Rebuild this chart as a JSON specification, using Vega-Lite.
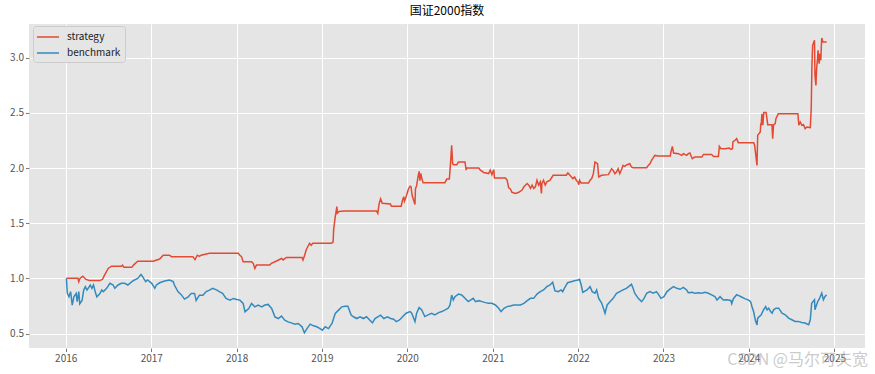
{
"$schema": "https://vega.github.io/schema/vega-lite/v6.json",
"width": 836, "height": 324,
"autosize": {"type": "none"},
"padding": {"left": 29, "top": 24, "right": 10, "bottom": 26},
"background": "white",
"title": {"text": "国证2000指数", "font": "Noto Sans CJK SC", "fontSize": 12, "fontWeight": "normal", "color": "#000000", "anchor": "middle", "offset": 6},
"config": {
"view": {"fill": "#E5E5E5", "stroke": null},
"axis": {"domain": false, "grid": true, "gridColor": "#FFFFFF", "gridWidth": 1, "gridOpacity": 1, "ticks": true, "tickColor": "#555555", "tickSize": 3.5, "tickWidth": 0.8, "labelColor": "#555555", "labelFont": "Noto Sans CJK SC", "labelFontSize": 10, "labelPadding": 2, "labelFlush": false, "title": null}
},
"datasets": {
"series": [
{"date":"2016-01-04","series":"strategy","value":1.000},
{"date":"2016-02-22","series":"strategy","value":1.000},
{"date":"2016-02-26","series":"strategy","value":0.970},
{"date":"2016-03-02","series":"strategy","value":1.000},
{"date":"2016-03-14","series":"strategy","value":1.020},
{"date":"2016-03-28","series":"strategy","value":0.990},
{"date":"2016-04-11","series":"strategy","value":0.980},
{"date":"2016-05-25","series":"strategy","value":0.980},
{"date":"2016-06-06","series":"strategy","value":0.990},
{"date":"2016-06-15","series":"strategy","value":1.030},
{"date":"2016-07-01","series":"strategy","value":1.090},
{"date":"2016-07-15","series":"strategy","value":1.110},
{"date":"2016-08-26","series":"strategy","value":1.110},
{"date":"2016-08-31","series":"strategy","value":1.120},
{"date":"2016-09-06","series":"strategy","value":1.100},
{"date":"2016-10-10","series":"strategy","value":1.100},
{"date":"2016-10-17","series":"strategy","value":1.120},
{"date":"2016-11-04","series":"strategy","value":1.155},
{"date":"2017-01-09","series":"strategy","value":1.155},
{"date":"2017-02-06","series":"strategy","value":1.175},
{"date":"2017-02-21","series":"strategy","value":1.210},
{"date":"2017-03-20","series":"strategy","value":1.210},
{"date":"2017-03-28","series":"strategy","value":1.197},
{"date":"2017-06-28","series":"strategy","value":1.197},
{"date":"2017-07-07","series":"strategy","value":1.170},
{"date":"2017-07-17","series":"strategy","value":1.210},
{"date":"2017-07-26","series":"strategy","value":1.200},
{"date":"2017-08-02","series":"strategy","value":1.210},
{"date":"2017-09-07","series":"strategy","value":1.227},
{"date":"2018-01-08","series":"strategy","value":1.227},
{"date":"2018-01-15","series":"strategy","value":1.210},
{"date":"2018-01-22","series":"strategy","value":1.197},
{"date":"2018-01-29","series":"strategy","value":1.150},
{"date":"2018-03-06","series":"strategy","value":1.150},
{"date":"2018-03-13","series":"strategy","value":1.136},
{"date":"2018-03-20","series":"strategy","value":1.090},
{"date":"2018-03-27","series":"strategy","value":1.120},
{"date":"2018-05-23","series":"strategy","value":1.120},
{"date":"2018-05-30","series":"strategy","value":1.136},
{"date":"2018-06-21","series":"strategy","value":1.157},
{"date":"2018-07-12","series":"strategy","value":1.180},
{"date":"2018-07-19","series":"strategy","value":1.167},
{"date":"2018-08-02","series":"strategy","value":1.190},
{"date":"2018-10-08","series":"strategy","value":1.190},
{"date":"2018-10-12","series":"strategy","value":1.167},
{"date":"2018-10-19","series":"strategy","value":1.210},
{"date":"2018-10-26","series":"strategy","value":1.260},
{"date":"2018-11-09","series":"strategy","value":1.318},
{"date":"2018-11-16","series":"strategy","value":1.300},
{"date":"2018-11-23","series":"strategy","value":1.318},
{"date":"2019-02-11","series":"strategy","value":1.318},
{"date":"2019-02-18","series":"strategy","value":1.330},
{"date":"2019-02-20","series":"strategy","value":1.440},
{"date":"2019-02-27","series":"strategy","value":1.560},
{"date":"2019-03-06","series":"strategy","value":1.650},
{"date":"2019-03-08","series":"strategy","value":1.590},
{"date":"2019-03-15","series":"strategy","value":1.606},
{"date":"2019-04-05","series":"strategy","value":1.610},
{"date":"2019-08-23","series":"strategy","value":1.610},
{"date":"2019-08-28","series":"strategy","value":1.590},
{"date":"2019-09-03","series":"strategy","value":1.680},
{"date":"2019-09-09","series":"strategy","value":1.720},
{"date":"2019-09-16","series":"strategy","value":1.680},
{"date":"2019-10-21","series":"strategy","value":1.674},
{"date":"2019-10-25","series":"strategy","value":1.654},
{"date":"2019-12-06","series":"strategy","value":1.654},
{"date":"2019-12-12","series":"strategy","value":1.710},
{"date":"2019-12-17","series":"strategy","value":1.740},
{"date":"2019-12-20","series":"strategy","value":1.700},
{"date":"2019-12-27","series":"strategy","value":1.740},
{"date":"2020-01-06","series":"strategy","value":1.810},
{"date":"2020-01-13","series":"strategy","value":1.835},
{"date":"2020-01-17","series":"strategy","value":1.830},
{"date":"2020-01-22","series":"strategy","value":1.750},
{"date":"2020-02-03","series":"strategy","value":1.670},
{"date":"2020-02-05","series":"strategy","value":1.810},
{"date":"2020-02-10","series":"strategy","value":1.840},
{"date":"2020-02-17","series":"strategy","value":1.930},
{"date":"2020-02-21","series":"strategy","value":1.970},
{"date":"2020-02-24","series":"strategy","value":1.885},
{"date":"2020-02-28","series":"strategy","value":1.950},
{"date":"2020-03-04","series":"strategy","value":1.900},
{"date":"2020-03-09","series":"strategy","value":1.867},
{"date":"2020-06-10","series":"strategy","value":1.867},
{"date":"2020-06-18","series":"strategy","value":1.900},
{"date":"2020-06-29","series":"strategy","value":1.900},
{"date":"2020-07-03","series":"strategy","value":2.010},
{"date":"2020-07-09","series":"strategy","value":2.205},
{"date":"2020-07-13","series":"strategy","value":2.040},
{"date":"2020-07-17","series":"strategy","value":2.030},
{"date":"2020-07-31","series":"strategy","value":2.030},
{"date":"2020-08-07","series":"strategy","value":2.054},
{"date":"2020-09-04","series":"strategy","value":2.054},
{"date":"2020-09-09","series":"strategy","value":1.980},
{"date":"2020-09-11","series":"strategy","value":2.000},
{"date":"2020-11-02","series":"strategy","value":2.000},
{"date":"2020-11-09","series":"strategy","value":1.980},
{"date":"2020-11-23","series":"strategy","value":1.960},
{"date":"2020-12-14","series":"strategy","value":1.950},
{"date":"2020-12-21","series":"strategy","value":1.980},
{"date":"2020-12-28","series":"strategy","value":1.940},
{"date":"2021-01-05","series":"strategy","value":1.985},
{"date":"2021-01-08","series":"strategy","value":1.910},
{"date":"2021-02-24","series":"strategy","value":1.910},
{"date":"2021-03-03","series":"strategy","value":1.890},
{"date":"2021-03-10","series":"strategy","value":1.820},
{"date":"2021-03-17","series":"strategy","value":1.810},
{"date":"2021-03-24","series":"strategy","value":1.780},
{"date":"2021-04-08","series":"strategy","value":1.770},
{"date":"2021-04-22","series":"strategy","value":1.780},
{"date":"2021-05-06","series":"strategy","value":1.800},
{"date":"2021-05-14","series":"strategy","value":1.830},
{"date":"2021-05-28","series":"strategy","value":1.860},
{"date":"2021-06-04","series":"strategy","value":1.845},
{"date":"2021-06-11","series":"strategy","value":1.815},
{"date":"2021-06-18","series":"strategy","value":1.845},
{"date":"2021-06-25","series":"strategy","value":1.815},
{"date":"2021-07-02","series":"strategy","value":1.830},
{"date":"2021-07-09","series":"strategy","value":1.890},
{"date":"2021-07-16","series":"strategy","value":1.845},
{"date":"2021-07-23","series":"strategy","value":1.875},
{"date":"2021-07-28","series":"strategy","value":1.770},
{"date":"2021-07-30","series":"strategy","value":1.860},
{"date":"2021-08-06","series":"strategy","value":1.890},
{"date":"2021-08-13","series":"strategy","value":1.845},
{"date":"2021-08-20","series":"strategy","value":1.875},
{"date":"2021-09-03","series":"strategy","value":1.890},
{"date":"2021-09-16","series":"strategy","value":1.934},
{"date":"2021-11-11","series":"strategy","value":1.934},
{"date":"2021-11-18","series":"strategy","value":1.955},
{"date":"2021-11-25","series":"strategy","value":1.940},
{"date":"2021-12-03","series":"strategy","value":1.919},
{"date":"2021-12-10","series":"strategy","value":1.904},
{"date":"2021-12-17","series":"strategy","value":1.919},
{"date":"2021-12-24","series":"strategy","value":1.889},
{"date":"2021-12-31","series":"strategy","value":1.873},
{"date":"2022-01-04","series":"strategy","value":1.849},
{"date":"2022-01-07","series":"strategy","value":1.889},
{"date":"2022-01-14","series":"strategy","value":1.864},
{"date":"2022-02-14","series":"strategy","value":1.864},
{"date":"2022-02-21","series":"strategy","value":1.889},
{"date":"2022-02-28","series":"strategy","value":1.904},
{"date":"2022-03-07","series":"strategy","value":1.949},
{"date":"2022-03-14","series":"strategy","value":2.054},
{"date":"2022-03-25","series":"strategy","value":2.039},
{"date":"2022-03-30","series":"strategy","value":1.919},
{"date":"2022-04-11","series":"strategy","value":1.934},
{"date":"2022-05-10","series":"strategy","value":1.940},
{"date":"2022-05-17","series":"strategy","value":1.964},
{"date":"2022-05-24","series":"strategy","value":1.994},
{"date":"2022-05-31","series":"strategy","value":1.979},
{"date":"2022-06-07","series":"strategy","value":1.949},
{"date":"2022-06-14","series":"strategy","value":1.964},
{"date":"2022-06-21","series":"strategy","value":1.994},
{"date":"2022-06-28","series":"strategy","value":1.949},
{"date":"2022-07-05","series":"strategy","value":1.985},
{"date":"2022-07-12","series":"strategy","value":2.024},
{"date":"2022-07-19","series":"strategy","value":2.015},
{"date":"2022-07-29","series":"strategy","value":2.030},
{"date":"2022-08-10","series":"strategy","value":2.039},
{"date":"2022-08-17","series":"strategy","value":2.009},
{"date":"2022-08-24","series":"strategy","value":2.003},
{"date":"2022-10-21","series":"strategy","value":2.003},
{"date":"2022-10-28","series":"strategy","value":2.024},
{"date":"2022-11-04","series":"strategy","value":2.039},
{"date":"2022-11-11","series":"strategy","value":2.069},
{"date":"2022-11-25","series":"strategy","value":2.114},
{"date":"2022-12-09","series":"strategy","value":2.108},
{"date":"2023-01-30","series":"strategy","value":2.108},
{"date":"2023-02-02","series":"strategy","value":2.145},
{"date":"2023-02-08","series":"strategy","value":2.196},
{"date":"2023-02-13","series":"strategy","value":2.136},
{"date":"2023-03-06","series":"strategy","value":2.130},
{"date":"2023-03-20","series":"strategy","value":2.114},
{"date":"2023-03-27","series":"strategy","value":2.130},
{"date":"2023-04-10","series":"strategy","value":2.114},
{"date":"2023-04-17","series":"strategy","value":2.130},
{"date":"2023-04-24","series":"strategy","value":2.136},
{"date":"2023-05-04","series":"strategy","value":2.084},
{"date":"2023-05-15","series":"strategy","value":2.099},
{"date":"2023-06-14","series":"strategy","value":2.099},
{"date":"2023-06-21","series":"strategy","value":2.123},
{"date":"2023-07-26","series":"strategy","value":2.123},
{"date":"2023-08-03","series":"strategy","value":2.105},
{"date":"2023-08-24","series":"strategy","value":2.105},
{"date":"2023-08-28","series":"strategy","value":2.196},
{"date":"2023-09-04","series":"strategy","value":2.175},
{"date":"2023-09-22","series":"strategy","value":2.175},
{"date":"2023-10-09","series":"strategy","value":2.181},
{"date":"2023-10-16","series":"strategy","value":2.169},
{"date":"2023-10-23","series":"strategy","value":2.175},
{"date":"2023-10-25","series":"strategy","value":2.236},
{"date":"2023-11-03","series":"strategy","value":2.251},
{"date":"2023-11-10","series":"strategy","value":2.266},
{"date":"2023-11-17","series":"strategy","value":2.230},
{"date":"2024-01-22","series":"strategy","value":2.230},
{"date":"2024-01-26","series":"strategy","value":2.205},
{"date":"2024-02-05","series":"strategy","value":2.024},
{"date":"2024-02-08","series":"strategy","value":2.296},
{"date":"2024-02-19","series":"strategy","value":2.326},
{"date":"2024-02-20","series":"strategy","value":2.356},
{"date":"2024-02-21","series":"strategy","value":2.402},
{"date":"2024-02-23","series":"strategy","value":2.387},
{"date":"2024-02-26","series":"strategy","value":2.492},
{"date":"2024-03-01","series":"strategy","value":2.387},
{"date":"2024-03-05","series":"strategy","value":2.502},
{"date":"2024-03-15","series":"strategy","value":2.502},
{"date":"2024-03-22","series":"strategy","value":2.393},
{"date":"2024-04-09","series":"strategy","value":2.393},
{"date":"2024-04-12","series":"strategy","value":2.266},
{"date":"2024-04-16","series":"strategy","value":2.393},
{"date":"2024-04-23","series":"strategy","value":2.402},
{"date":"2024-04-26","series":"strategy","value":2.447},
{"date":"2024-05-06","series":"strategy","value":2.492},
{"date":"2024-07-29","series":"strategy","value":2.492},
{"date":"2024-08-02","series":"strategy","value":2.387},
{"date":"2024-08-08","series":"strategy","value":2.417},
{"date":"2024-08-15","series":"strategy","value":2.387},
{"date":"2024-08-22","series":"strategy","value":2.393},
{"date":"2024-08-29","series":"strategy","value":2.356},
{"date":"2024-09-05","series":"strategy","value":2.372},
{"date":"2024-09-20","series":"strategy","value":2.366},
{"date":"2024-09-24","series":"strategy","value":2.538},
{"date":"2024-09-27","series":"strategy","value":2.931},
{"date":"2024-09-30","series":"strategy","value":3.112},
{"date":"2024-10-08","series":"strategy","value":3.157},
{"date":"2024-10-10","series":"strategy","value":2.840},
{"date":"2024-10-14","series":"strategy","value":2.749},
{"date":"2024-10-17","series":"strategy","value":2.900},
{"date":"2024-10-21","series":"strategy","value":2.991},
{"date":"2024-10-23","series":"strategy","value":3.066},
{"date":"2024-10-28","series":"strategy","value":2.946},
{"date":"2024-10-31","series":"strategy","value":3.036},
{"date":"2024-11-04","series":"strategy","value":2.976},
{"date":"2024-11-06","series":"strategy","value":3.097},
{"date":"2024-11-08","series":"strategy","value":3.178},
{"date":"2024-11-13","series":"strategy","value":3.142},
{"date":"2024-11-29","series":"strategy","value":3.142},
{"date":"2016-01-04","series":"benchmark","value":1.000},
{"date":"2016-01-08","series":"benchmark","value":0.864},
{"date":"2016-01-15","series":"benchmark","value":0.833},
{"date":"2016-01-22","series":"benchmark","value":0.880},
{"date":"2016-01-29","series":"benchmark","value":0.758},
{"date":"2016-02-05","series":"benchmark","value":0.833},
{"date":"2016-02-15","series":"benchmark","value":0.864},
{"date":"2016-02-19","series":"benchmark","value":0.790},
{"date":"2016-02-26","series":"benchmark","value":0.880},
{"date":"2016-03-01","series":"benchmark","value":0.770},
{"date":"2016-03-11","series":"benchmark","value":0.800},
{"date":"2016-03-18","series":"benchmark","value":0.894},
{"date":"2016-03-25","series":"benchmark","value":0.924},
{"date":"2016-04-01","series":"benchmark","value":0.894},
{"date":"2016-04-15","series":"benchmark","value":0.940},
{"date":"2016-04-22","series":"benchmark","value":0.910},
{"date":"2016-04-29","series":"benchmark","value":0.940},
{"date":"2016-05-06","series":"benchmark","value":0.880},
{"date":"2016-05-13","series":"benchmark","value":0.833},
{"date":"2016-05-20","series":"benchmark","value":0.848},
{"date":"2016-05-27","series":"benchmark","value":0.864},
{"date":"2016-06-03","series":"benchmark","value":0.894},
{"date":"2016-06-10","series":"benchmark","value":0.880},
{"date":"2016-06-24","series":"benchmark","value":0.910},
{"date":"2016-07-08","series":"benchmark","value":0.955},
{"date":"2016-07-22","series":"benchmark","value":0.940},
{"date":"2016-07-29","series":"benchmark","value":0.910},
{"date":"2016-08-12","series":"benchmark","value":0.940},
{"date":"2016-08-26","series":"benchmark","value":0.955},
{"date":"2016-09-09","series":"benchmark","value":0.955},
{"date":"2016-09-23","series":"benchmark","value":0.940},
{"date":"2016-10-10","series":"benchmark","value":0.970},
{"date":"2016-10-21","series":"benchmark","value":0.985},
{"date":"2016-11-04","series":"benchmark","value":1.000},
{"date":"2016-11-18","series":"benchmark","value":1.036},
{"date":"2016-11-25","series":"benchmark","value":1.015},
{"date":"2016-12-08","series":"benchmark","value":0.970},
{"date":"2016-12-16","series":"benchmark","value":0.985},
{"date":"2017-01-03","series":"benchmark","value":0.955},
{"date":"2017-01-16","series":"benchmark","value":0.910},
{"date":"2017-01-23","series":"benchmark","value":0.940},
{"date":"2017-02-06","series":"benchmark","value":0.960},
{"date":"2017-02-27","series":"benchmark","value":0.976},
{"date":"2017-03-20","series":"benchmark","value":0.985},
{"date":"2017-04-05","series":"benchmark","value":0.970},
{"date":"2017-04-10","series":"benchmark","value":0.940},
{"date":"2017-04-25","series":"benchmark","value":0.880},
{"date":"2017-05-10","series":"benchmark","value":0.850},
{"date":"2017-05-23","series":"benchmark","value":0.812},
{"date":"2017-06-08","series":"benchmark","value":0.833},
{"date":"2017-06-21","series":"benchmark","value":0.864},
{"date":"2017-07-05","series":"benchmark","value":0.864},
{"date":"2017-07-12","series":"benchmark","value":0.800},
{"date":"2017-07-26","series":"benchmark","value":0.848},
{"date":"2017-08-10","series":"benchmark","value":0.848},
{"date":"2017-08-24","series":"benchmark","value":0.880},
{"date":"2017-09-07","series":"benchmark","value":0.894},
{"date":"2017-09-21","series":"benchmark","value":0.910},
{"date":"2017-10-09","series":"benchmark","value":0.894},
{"date":"2017-10-19","series":"benchmark","value":0.880},
{"date":"2017-11-02","series":"benchmark","value":0.864},
{"date":"2017-11-17","series":"benchmark","value":0.818},
{"date":"2017-12-04","series":"benchmark","value":0.803},
{"date":"2017-12-18","series":"benchmark","value":0.818},
{"date":"2018-01-02","series":"benchmark","value":0.809},
{"date":"2018-01-15","series":"benchmark","value":0.803},
{"date":"2018-01-29","series":"benchmark","value":0.773},
{"date":"2018-02-06","series":"benchmark","value":0.697},
{"date":"2018-02-22","series":"benchmark","value":0.727},
{"date":"2018-03-06","series":"benchmark","value":0.773},
{"date":"2018-03-20","series":"benchmark","value":0.742},
{"date":"2018-04-03","series":"benchmark","value":0.758},
{"date":"2018-04-18","series":"benchmark","value":0.742},
{"date":"2018-05-02","series":"benchmark","value":0.758},
{"date":"2018-05-16","series":"benchmark","value":0.764},
{"date":"2018-05-31","series":"benchmark","value":0.727},
{"date":"2018-06-14","series":"benchmark","value":0.651},
{"date":"2018-06-28","series":"benchmark","value":0.636},
{"date":"2018-07-12","series":"benchmark","value":0.658},
{"date":"2018-07-26","series":"benchmark","value":0.621},
{"date":"2018-08-09","series":"benchmark","value":0.606},
{"date":"2018-08-23","series":"benchmark","value":0.597},
{"date":"2018-09-07","series":"benchmark","value":0.585},
{"date":"2018-09-21","series":"benchmark","value":0.591},
{"date":"2018-10-08","series":"benchmark","value":0.561},
{"date":"2018-10-18","series":"benchmark","value":0.506},
{"date":"2018-10-29","series":"benchmark","value":0.545},
{"date":"2018-11-12","series":"benchmark","value":0.585},
{"date":"2018-11-26","series":"benchmark","value":0.570},
{"date":"2018-12-10","series":"benchmark","value":0.561},
{"date":"2018-12-24","series":"benchmark","value":0.545},
{"date":"2019-01-03","series":"benchmark","value":0.530},
{"date":"2019-01-15","series":"benchmark","value":0.561},
{"date":"2019-01-29","series":"benchmark","value":0.545},
{"date":"2019-02-13","series":"benchmark","value":0.591},
{"date":"2019-02-27","series":"benchmark","value":0.682},
{"date":"2019-03-13","series":"benchmark","value":0.712},
{"date":"2019-03-27","series":"benchmark","value":0.742},
{"date":"2019-04-10","series":"benchmark","value":0.748},
{"date":"2019-04-22","series":"benchmark","value":0.748},
{"date":"2019-05-06","series":"benchmark","value":0.667},
{"date":"2019-05-16","series":"benchmark","value":0.652},
{"date":"2019-05-30","series":"benchmark","value":0.636},
{"date":"2019-06-13","series":"benchmark","value":0.652},
{"date":"2019-06-27","series":"benchmark","value":0.636},
{"date":"2019-07-11","series":"benchmark","value":0.652},
{"date":"2019-07-25","series":"benchmark","value":0.621},
{"date":"2019-08-05","series":"benchmark","value":0.597},
{"date":"2019-08-16","series":"benchmark","value":0.636},
{"date":"2019-09-09","series":"benchmark","value":0.667},
{"date":"2019-09-23","series":"benchmark","value":0.636},
{"date":"2019-10-08","series":"benchmark","value":0.652},
{"date":"2019-10-22","series":"benchmark","value":0.636},
{"date":"2019-11-04","series":"benchmark","value":0.630},
{"date":"2019-11-15","series":"benchmark","value":0.608},
{"date":"2019-11-29","series":"benchmark","value":0.623},
{"date":"2019-12-13","series":"benchmark","value":0.654},
{"date":"2019-12-27","series":"benchmark","value":0.684},
{"date":"2020-01-13","series":"benchmark","value":0.699},
{"date":"2020-01-20","series":"benchmark","value":0.684},
{"date":"2020-02-03","series":"benchmark","value":0.608},
{"date":"2020-02-10","series":"benchmark","value":0.684},
{"date":"2020-02-21","series":"benchmark","value":0.735},
{"date":"2020-03-03","series":"benchmark","value":0.714},
{"date":"2020-03-16","series":"benchmark","value":0.654},
{"date":"2020-03-30","series":"benchmark","value":0.669},
{"date":"2020-04-14","series":"benchmark","value":0.684},
{"date":"2020-04-28","series":"benchmark","value":0.669},
{"date":"2020-05-14","series":"benchmark","value":0.690},
{"date":"2020-05-28","series":"benchmark","value":0.699},
{"date":"2020-06-11","series":"benchmark","value":0.714},
{"date":"2020-06-24","series":"benchmark","value":0.729},
{"date":"2020-07-02","series":"benchmark","value":0.759},
{"date":"2020-07-09","series":"benchmark","value":0.849},
{"date":"2020-07-16","series":"benchmark","value":0.804},
{"date":"2020-07-23","series":"benchmark","value":0.834},
{"date":"2020-08-07","series":"benchmark","value":0.858},
{"date":"2020-08-21","series":"benchmark","value":0.849},
{"date":"2020-09-04","series":"benchmark","value":0.819},
{"date":"2020-09-18","series":"benchmark","value":0.789},
{"date":"2020-10-09","series":"benchmark","value":0.819},
{"date":"2020-10-19","series":"benchmark","value":0.789},
{"date":"2020-11-02","series":"benchmark","value":0.798},
{"date":"2020-11-16","series":"benchmark","value":0.789},
{"date":"2020-11-30","series":"benchmark","value":0.780},
{"date":"2020-12-14","series":"benchmark","value":0.774},
{"date":"2020-12-28","series":"benchmark","value":0.774},
{"date":"2021-01-12","series":"benchmark","value":0.759},
{"date":"2021-01-26","series":"benchmark","value":0.729},
{"date":"2021-02-05","series":"benchmark","value":0.699},
{"date":"2021-02-18","series":"benchmark","value":0.729},
{"date":"2021-03-03","series":"benchmark","value":0.744},
{"date":"2021-03-17","series":"benchmark","value":0.750},
{"date":"2021-03-31","series":"benchmark","value":0.759},
{"date":"2021-04-15","series":"benchmark","value":0.759},
{"date":"2021-04-29","series":"benchmark","value":0.759},
{"date":"2021-05-14","series":"benchmark","value":0.774},
{"date":"2021-05-28","series":"benchmark","value":0.798},
{"date":"2021-06-11","series":"benchmark","value":0.819},
{"date":"2021-06-25","series":"benchmark","value":0.819},
{"date":"2021-07-09","series":"benchmark","value":0.858},
{"date":"2021-07-23","series":"benchmark","value":0.880},
{"date":"2021-08-06","series":"benchmark","value":0.895},
{"date":"2021-08-20","series":"benchmark","value":0.925},
{"date":"2021-09-03","series":"benchmark","value":0.940},
{"date":"2021-09-14","series":"benchmark","value":0.964},
{"date":"2021-09-24","series":"benchmark","value":0.886},
{"date":"2021-10-08","series":"benchmark","value":0.880},
{"date":"2021-10-20","series":"benchmark","value":0.895},
{"date":"2021-10-27","series":"benchmark","value":0.880},
{"date":"2021-11-03","series":"benchmark","value":0.910},
{"date":"2021-11-17","series":"benchmark","value":0.961},
{"date":"2021-12-02","series":"benchmark","value":0.970},
{"date":"2021-12-16","series":"benchmark","value":0.979},
{"date":"2021-12-31","series":"benchmark","value":0.985},
{"date":"2022-01-07","series":"benchmark","value":0.991},
{"date":"2022-01-14","series":"benchmark","value":0.940},
{"date":"2022-01-21","series":"benchmark","value":0.873},
{"date":"2022-02-08","series":"benchmark","value":0.895},
{"date":"2022-02-21","series":"benchmark","value":0.925},
{"date":"2022-03-02","series":"benchmark","value":0.880},
{"date":"2022-03-14","series":"benchmark","value":0.865},
{"date":"2022-03-21","series":"benchmark","value":0.895},
{"date":"2022-03-30","series":"benchmark","value":0.819},
{"date":"2022-04-12","series":"benchmark","value":0.774},
{"date":"2022-04-19","series":"benchmark","value":0.729},
{"date":"2022-04-26","series":"benchmark","value":0.684},
{"date":"2022-05-05","series":"benchmark","value":0.759},
{"date":"2022-05-17","series":"benchmark","value":0.789},
{"date":"2022-05-31","series":"benchmark","value":0.819},
{"date":"2022-06-14","series":"benchmark","value":0.865},
{"date":"2022-06-28","series":"benchmark","value":0.880},
{"date":"2022-07-12","series":"benchmark","value":0.895},
{"date":"2022-07-26","series":"benchmark","value":0.910},
{"date":"2022-08-05","series":"benchmark","value":0.925},
{"date":"2022-08-17","series":"benchmark","value":0.946},
{"date":"2022-08-24","series":"benchmark","value":0.910},
{"date":"2022-08-31","series":"benchmark","value":0.865},
{"date":"2022-09-15","series":"benchmark","value":0.819},
{"date":"2022-09-29","series":"benchmark","value":0.789},
{"date":"2022-10-10","series":"benchmark","value":0.819},
{"date":"2022-10-21","series":"benchmark","value":0.865},
{"date":"2022-11-04","series":"benchmark","value":0.880},
{"date":"2022-11-18","series":"benchmark","value":0.865},
{"date":"2022-12-02","series":"benchmark","value":0.880},
{"date":"2022-12-12","series":"benchmark","value":0.850},
{"date":"2022-12-21","series":"benchmark","value":0.819},
{"date":"2023-01-03","series":"benchmark","value":0.834},
{"date":"2023-01-16","series":"benchmark","value":0.880},
{"date":"2023-01-30","series":"benchmark","value":0.904},
{"date":"2023-02-13","series":"benchmark","value":0.925},
{"date":"2023-02-27","series":"benchmark","value":0.910},
{"date":"2023-03-13","series":"benchmark","value":0.901},
{"date":"2023-03-27","series":"benchmark","value":0.919},
{"date":"2023-04-10","series":"benchmark","value":0.895},
{"date":"2023-04-17","series":"benchmark","value":0.870},
{"date":"2023-05-04","series":"benchmark","value":0.873},
{"date":"2023-05-15","series":"benchmark","value":0.865},
{"date":"2023-05-30","series":"benchmark","value":0.870},
{"date":"2023-06-13","series":"benchmark","value":0.865},
{"date":"2023-06-28","series":"benchmark","value":0.873},
{"date":"2023-07-12","series":"benchmark","value":0.865},
{"date":"2023-07-26","series":"benchmark","value":0.850},
{"date":"2023-08-09","series":"benchmark","value":0.834},
{"date":"2023-08-18","series":"benchmark","value":0.804},
{"date":"2023-08-31","series":"benchmark","value":0.834},
{"date":"2023-09-14","series":"benchmark","value":0.804},
{"date":"2023-09-28","series":"benchmark","value":0.807},
{"date":"2023-10-16","series":"benchmark","value":0.800},
{"date":"2023-10-20","series":"benchmark","value":0.770},
{"date":"2023-10-27","series":"benchmark","value":0.816},
{"date":"2023-11-10","series":"benchmark","value":0.852},
{"date":"2023-11-17","series":"benchmark","value":0.846},
{"date":"2023-12-01","series":"benchmark","value":0.831},
{"date":"2023-12-15","series":"benchmark","value":0.816},
{"date":"2024-01-02","series":"benchmark","value":0.801},
{"date":"2024-01-09","series":"benchmark","value":0.786},
{"date":"2024-01-15","series":"benchmark","value":0.740},
{"date":"2024-01-22","series":"benchmark","value":0.695},
{"date":"2024-01-29","series":"benchmark","value":0.620},
{"date":"2024-02-05","series":"benchmark","value":0.578},
{"date":"2024-02-08","series":"benchmark","value":0.640},
{"date":"2024-02-23","series":"benchmark","value":0.670},
{"date":"2024-03-04","series":"benchmark","value":0.715},
{"date":"2024-03-13","series":"benchmark","value":0.745},
{"date":"2024-03-19","series":"benchmark","value":0.715},
{"date":"2024-03-26","series":"benchmark","value":0.730},
{"date":"2024-04-03","series":"benchmark","value":0.700},
{"date":"2024-04-10","series":"benchmark","value":0.685},
{"date":"2024-04-16","series":"benchmark","value":0.715},
{"date":"2024-04-26","series":"benchmark","value":0.730},
{"date":"2024-05-08","series":"benchmark","value":0.730},
{"date":"2024-05-22","series":"benchmark","value":0.685},
{"date":"2024-06-05","series":"benchmark","value":0.670},
{"date":"2024-06-19","series":"benchmark","value":0.640},
{"date":"2024-07-03","series":"benchmark","value":0.625},
{"date":"2024-07-17","series":"benchmark","value":0.610},
{"date":"2024-07-31","series":"benchmark","value":0.610},
{"date":"2024-08-14","series":"benchmark","value":0.600},
{"date":"2024-08-28","series":"benchmark","value":0.595},
{"date":"2024-09-13","series":"benchmark","value":0.580},
{"date":"2024-09-20","series":"benchmark","value":0.625},
{"date":"2024-09-26","series":"benchmark","value":0.775},
{"date":"2024-10-08","series":"benchmark","value":0.806},
{"date":"2024-10-10","series":"benchmark","value":0.715},
{"date":"2024-10-17","series":"benchmark","value":0.760},
{"date":"2024-10-22","series":"benchmark","value":0.790},
{"date":"2024-10-30","series":"benchmark","value":0.820},
{"date":"2024-11-08","series":"benchmark","value":0.866},
{"date":"2024-11-15","series":"benchmark","value":0.806},
{"date":"2024-11-22","series":"benchmark","value":0.836},
{"date":"2024-11-29","series":"benchmark","value":0.850}
],
"watermark": [
{"date":"2024-07-28","value":0.258,"text":"CSDN @马尔可夫宽"}
]
},
"layer": [
{
"data": {"name": "series"},
"mark": {"type": "line", "strokeWidth": 1.5, "clip": true},
"encoding": {
"x": {"field": "date", "type": "temporal",
"scale": {"type": "utc", "domain": [{"year": 2015, "month": 7, "date": 28, "utc": true}, {"year": 2025, "month": 5, "date": 12, "utc": true}]},
"axis": {"format": "%Y", "values": [
{"year": 2016, "month": 1, "date": 1, "utc": true},
{"year": 2017, "month": 1, "date": 1, "utc": true},
{"year": 2018, "month": 1, "date": 1, "utc": true},
{"year": 2019, "month": 1, "date": 1, "utc": true},
{"year": 2020, "month": 1, "date": 1, "utc": true},
{"year": 2021, "month": 1, "date": 1, "utc": true},
{"year": 2022, "month": 1, "date": 1, "utc": true},
{"year": 2023, "month": 1, "date": 1, "utc": true},
{"year": 2024, "month": 1, "date": 1, "utc": true},
{"year": 2025, "month": 1, "date": 1, "utc": true}]}},
"y": {"field": "value", "type": "quantitative",
"scale": {"domain": [0.369, 3.305], "zero": false, "nice": false},
"axis": {"values": [0.5, 1, 1.5, 2, 2.5, 3], "format": ".1f"}},
"color": {"field": "series", "type": "nominal",
"scale": {"domain": ["strategy", "benchmark"], "range": ["#E24A33", "#348ABD"]},
"legend": {"title": null, "orient": "none", "legendX": 4, "legendY": 2, "padding": 4, "fillColor": "#E5E5E5", "strokeColor": "#CCCCCC", "cornerRadius": 3, "symbolType": "M-1.17,0L2.5,0", "symbolSize": 144, "symbolStrokeWidth": 1.5, "rowPadding": 4, "labelOffset": 16, "labelFont": "Noto Sans CJK SC", "labelFontSize": 10, "labelColor": "#222222"}}
}
},
{
"data": {"name": "watermark"},
"mark": {"type": "text", "font": "Noto Sans CJK SC", "fontSize": 16, "color": "#AAAAAA", "opacity": 0.6, "align": "center", "baseline": "middle"},
"encoding": {
"x": {"field": "date", "type": "temporal"},
"y": {"field": "value", "type": "quantitative"},
"text": {"field": "text", "type": "nominal"}
}
}
]
}
